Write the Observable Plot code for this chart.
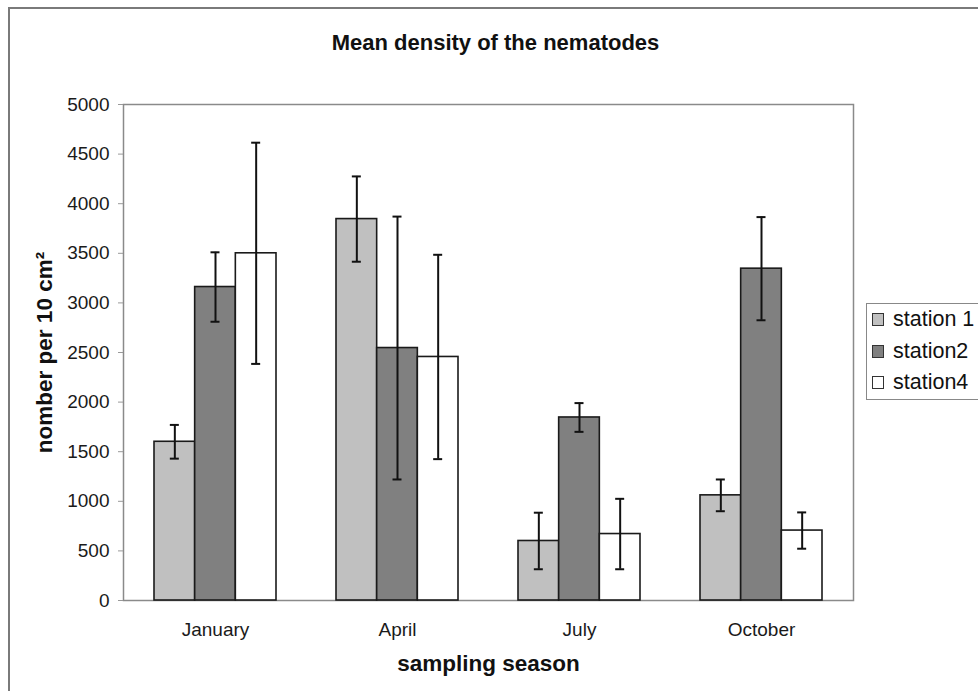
<!DOCTYPE html>
<html>
<head>
<meta charset="utf-8">
<script src="https://cdn.jsdelivr.net/npm/d3@7"></script>
<script src="https://cdn.jsdelivr.net/npm/@observablehq/plot@0.6"></script>
<style>
  html, body { margin: 0; padding: 0; background: #fff; }
  #wrap { position: relative; width: 978px; height: 691px; overflow: hidden; font-family: "Liberation Sans", Arial, sans-serif; }
  #outer { position: absolute; left: 8px; top: 7px; width: 1200px; height: 1000px; border-left: 2px solid #7a7a7a; border-top: 2px solid #7a7a7a; box-sizing: border-box; }
  #chart { position: absolute; left: 0; top: 0; }
  #legend { position: absolute; left: 866px; top: 303px; width: 140px; border: 1.5px solid #888; background: #fff; box-sizing: border-box; }
  .row { height: 31.5px; line-height: 31.5px; font-size: 21.5px; color: #111; white-space: nowrap; padding-left: 5px; }
  .sw { display: inline-block; width: 12px; height: 13px; border: 1.5px solid #333; box-sizing: border-box; margin-right: 9px; vertical-align: baseline; }
</style>
</head>
<body>
<div id="wrap">
  <div id="outer"></div>
  <div id="chart"></div>
  <div id="legend"></div>
</div>
<script>
// ---- data ----
const months = ["January", "April", "July", "October"];
const stations = ["station 1", "station2", "station4"];
const meanStation1 = [1600, 3845, 600, 1060];
const meanStation2 = [3160, 2545, 1845, 3345];
const meanStation4 = [3500, 2455, 670, 705];
const errStation1 = [170, 430, 285, 160];
const errStation2 = [350, 1325, 145, 520];
const errStation4 = [1115, 1030, 355, 183];
const yTicks = [0, 500, 1000, 1500, 2000, 2500, 3000, 3500, 4000, 4500, 5000];
const colors = ["#c0c0c0", "#808080", "#ffffff"];

const means = [meanStation1, meanStation2, meanStation4];
const errs = [errStation1, errStation2, errStation4];
const table = [];
stations.forEach((s, i) => months.forEach((m, j) => {
  table.push({station: s, si: i, month: m, value: means[i][j], lo: means[i][j] - errs[i][j], hi: means[i][j] + errs[i][j]});
}));

// ---- layout ----
const W = 978, H = 691;
const mL = 123, mR = 125, mT = 104, mB = 91;
const pI = 0.3315, pO = pI / 2;
const bw = (W - mL - mR) * (1 - pI) / (months.length - pI + 2 * pO);
const w = bw / 3;
const cap = 9;

const marks = [Plot.frame({stroke: "#8a8a8a", strokeWidth: 1.5})];
stations.forEach((s, i) => {
  const d = table.filter(r => r.station === s);
  marks.push(Plot.barY(d, {
    x: "month", y: "value", fill: colors[i], stroke: "#1a1a1a", strokeWidth: 1.6,
    insetLeft: i * w, insetRight: (2 - i) * w
  }));
});
stations.forEach((s, i) => {
  const d = table.filter(r => r.station === s);
  marks.push(Plot.ruleX(d, {x: "month", y1: "lo", y2: "hi", dx: (i - 1) * w, stroke: "#111", strokeWidth: 2}));
  for (const key of ["lo", "hi"]) {
    marks.push(Plot.tickY(d, {
      x: "month", y: key, stroke: "#111", strokeWidth: 2,
      insetLeft: i * w + w / 2 - cap / 2, insetRight: (2 - i) * w + w / 2 - cap / 2
    }));
  }
});
marks.push(
  Plot.axisY({ticks: yTicks, tickSize: 5, tickPadding: 9, stroke: "#999", fill: "#1a1a1a", fontSize: 19, label: null, tickFormat: d => String(d)}),
  Plot.axisX({tickSize: 0, tickPadding: 22, fill: "#1a1a1a", fontSize: 19, label: null}),
  Plot.text(["Mean density of the nematodes"], {frameAnchor: "top", lineAnchor: "middle", textAnchor: "middle", dy: -62, dx: 7, text: d => d, fontSize: 22, fontWeight: "bold", fill: "#111"}),
  Plot.text(["sampling season"], {frameAnchor: "bottom", lineAnchor: "middle", textAnchor: "middle", dy: 63, text: d => d, fontSize: 22.5, fontWeight: "bold", fill: "#111"}),
  Plot.text(["nomber per 10 cm²"], {frameAnchor: "left", lineAnchor: "middle", textAnchor: "middle", dx: -79, rotate: -90, text: d => d, fontSize: 22.5, fontWeight: "bold", fill: "#111"})
);

const chart = Plot.plot({
  width: W, height: H,
  marginLeft: mL, marginRight: mR, marginTop: mT, marginBottom: mB,
  style: {fontFamily: "'Liberation Sans', Arial, sans-serif", background: "transparent", overflow: "visible"},
  x: {type: "band", domain: months, paddingInner: pI, paddingOuter: pO, axis: null},
  y: {domain: [0, 5000], axis: null},
  marks
});
document.getElementById("chart").appendChild(chart);

// ---- legend ----
const lg = document.getElementById("legend");
stations.forEach((s, i) => {
  const row = document.createElement("div");
  row.className = "row";
  const sw = document.createElement("span");
  sw.className = "sw";
  sw.style.background = colors[i];
  row.appendChild(sw);
  row.appendChild(document.createTextNode(s));
  lg.appendChild(row);
});
</script>
</body>
</html>
